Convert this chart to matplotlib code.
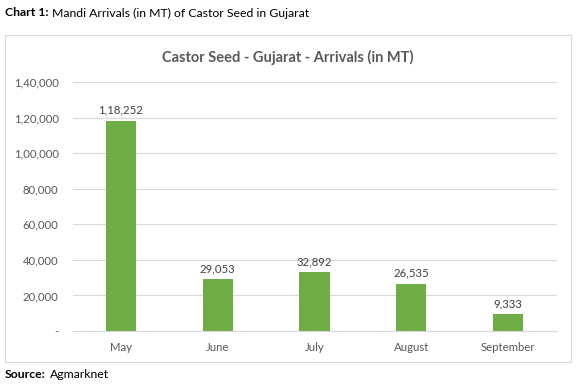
import matplotlib
matplotlib.use('Agg')
import matplotlib.pyplot as plt
from matplotlib.patches import Rectangle
from matplotlib.ticker import FuncFormatter

months = ["May", "June", "July", "August", "September"]
arrivals = [118252, 29053, 32892, 26535, 9333]
yticks = [0, 20000, 40000, 60000, 80000, 100000, 120000, 140000]


def indian(v):
    # Indian digit grouping, e.g. 1,18,252
    v = int(round(v))
    s = str(v)
    if len(s) <= 3:
        return s
    head, tail = s[:-3], s[-3:]
    parts = []
    while len(head) > 2:
        parts.insert(0, head[-2:])
        head = head[:-2]
    if head:
        parts.insert(0, head)
    return ",".join(parts) + "," + tail


plt.rcParams['font.family'] = ['Lato', 'DejaVu Sans']

W, H = 577, 385
fig = plt.figure(figsize=(W / 100, H / 100), dpi=100)

# outer chart frame
fig.patches.append(Rectangle((5 / W, 1 - 362 / H), 566 / W, 327 / H,
                             transform=fig.transFigure, fill=False,
                             edgecolor="#D9D9D9", linewidth=0.8))


def label_pair(y, bold, rest):
    t = fig.text(5 / W, 1 - y / H, bold, fontsize=8.8, fontweight="bold",
                 va="center", ha="left")
    r = fig.canvas.get_renderer()
    bb = t.get_window_extent(renderer=r)
    fig.text((bb.x1 + 4) / W, 1 - y / H, rest, fontsize=8.8, va="center", ha="left")


label_pair(13, "Chart 1:", "Mandi Arrivals (in MT) of Castor Seed in Gujarat")
label_pair(375, "Source:", "Agmarknet")

fig.text(288 / W, 1 - 57 / H, "Castor Seed - Gujarat - Arrivals (in MT)",
         fontsize=10.5, fontweight="bold", color="#595959", ha="center", va="center")

ax = fig.add_axes([72.5 / W, 1 - 331 / H, 484 / W, 249 / H])
x = range(len(months))
bars = ax.bar(x, arrivals, width=0.31, color="#70AD47", zorder=3)
for b, v in zip(bars, arrivals):
    ax.text(b.get_x() + b.get_width() / 2, v + 2800, indian(v),
            ha="center", va="bottom", fontsize=8.2, color="#404040")

ax.set_xlim(-0.5, len(months) - 0.5)
ax.set_ylim(0, 140000)
ax.set_yticks(yticks)
ax.yaxis.set_major_formatter(FuncFormatter(lambda v, p: "-" if v == 0 else indian(v)))
ax.set_xticks(list(x))
ax.set_xticklabels(months)
ax.tick_params(length=0, labelsize=8.2, labelcolor="#595959")
ax.tick_params(axis="y", pad=10)
ax.tick_params(axis="x", pad=8)
ax.grid(axis="y", color="#D9D9D9", linewidth=0.8, zorder=0)
for s in ["top", "right", "left"]:
    ax.spines[s].set_visible(False)
ax.spines["bottom"].set_color("#D9D9D9")

fig.savefig("out.png", dpi=100)
